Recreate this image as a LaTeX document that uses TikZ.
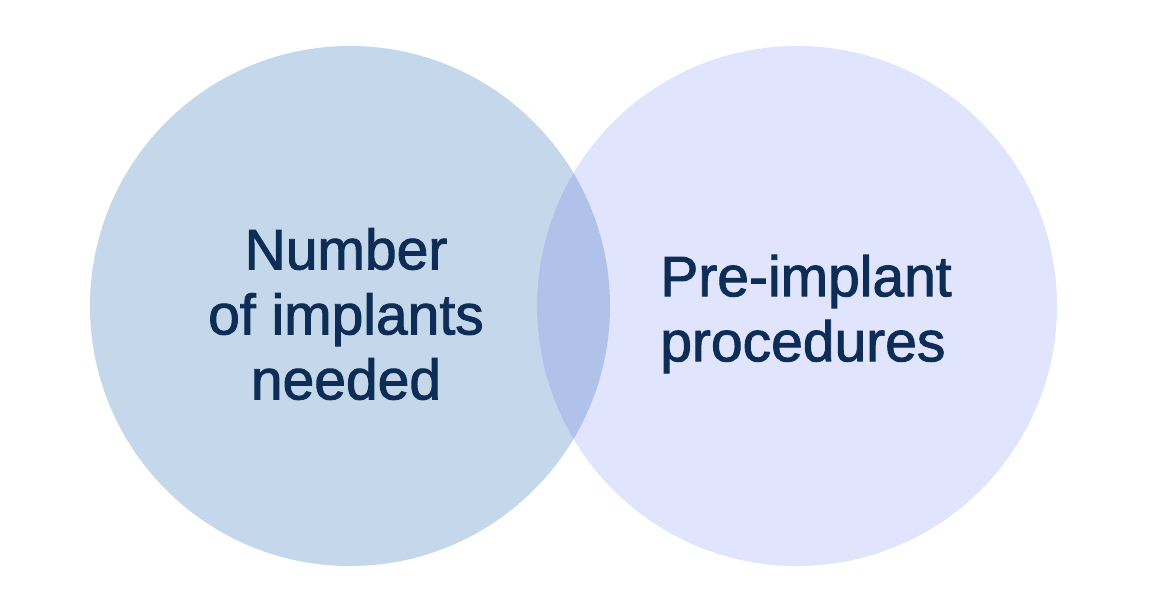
\documentclass[tikz,border=0pt]{standalone}
\usepackage{fontspec}
\setmainfont{Liberation Sans}
\newfontfamily\medfont[FakeBold=1.6]{Liberation Sans}
\definecolor{leftc}{HTML}{C5D7EA}
\definecolor{rightc}{HTML}{E0E4FC}
\definecolor{lensc}{HTML}{B0C2EA}
\definecolor{txt}{HTML}{0D2D57}
\tikzset{
  venn/.style={circle, minimum size=520pt, inner sep=0pt, draw=none},
  lbl/.style={text=txt, font=\medfont\fontsize{57}{65}\selectfont, inner sep=0pt},
}
\begin{document}
\begin{tikzpicture}[x=1pt,y=-1pt]
\useasboundingbox (0,0) rectangle (1150,614);
\fill[white] (0,0) rectangle (1150,614);
\node[venn, fill=leftc] (A) at (350,306) {};
\node[venn, fill=rightc] (B) at (797,306) {};
\begin{scope}
  \clip (350,306) circle[radius=260];
  \fill[lensc] (797,306) circle[radius=260];
\end{scope}
\node[lbl, align=center] (ta) at (346,314) {Number\\of implants\\needed};
\node[lbl, align=left] (tb) at (806,314) {Pre-implant\\procedures};
\end{tikzpicture}
\end{document}
